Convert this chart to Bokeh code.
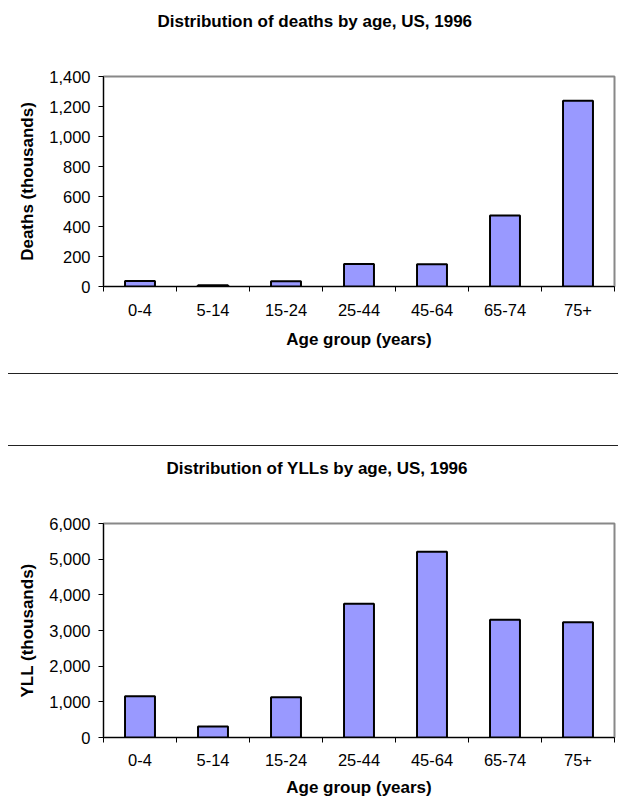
from bokeh.plotting import figure
from bokeh.layouts import column
from bokeh.models import FixedTicker, NumeralTickFormatter, ColumnDataSource, Div, Range1d, Title
from bokeh.embed import file_html
from bokeh.resources import INLINE

# ---- data ----
age_groups = ["0-4", "5-14", "15-24", "25-44", "45-64", "65-74", "75+"]
deaths_thousands = [36, 8, 35, 150, 148, 473, 1238]
yll_thousands = [1160, 308, 1132, 3748, 5205, 3299, 3234]
deaths_yticks = [0, 200, 400, 600, 800, 1000, 1200, 1400]
yll_yticks = [0, 1000, 2000, 3000, 4000, 5000, 6000]

FONT = "Liberation Sans"
BAR_FILL = "#9999FF"


def make_chart(title, ylabel, values, yticks, height, top_border, bottom_border,
               bar_width, title_offset, tick_standoff, xlabel_standoff):
    n = len(age_groups)
    centers = [i + 0.5 for i in range(n)]
    src = ColumnDataSource(dict(x=centers, top=values, cat=age_groups))
    p = figure(width=618, height=height, output_backend="svg", toolbar_location=None,
               x_range=Range1d(0, n), y_range=Range1d(yticks[0], yticks[-1]),
               min_border_left=103, min_border_right=4,
               min_border_top=top_border, min_border_bottom=bottom_border,
               title=title)
    p.vbar(x="x", top="top", width=bar_width, bottom=0, source=src,
           fill_color=BAR_FILL, line_color="black", line_width=2)

    # spacer between the frame and the title, so the title sits near the top
    p.add_layout(Title(text=" ", text_font_size="2px", standoff=29.5), "above")

    p.title.text_font = FONT
    p.title.text_font_size = "17px"
    p.title.text_font_style = "bold"
    p.title.text_color = "black"
    p.title.align = "left"
    p.title.offset = title_offset
    p.title.vertical_align = "top"
    p.title.standoff = 20

    p.xgrid.visible = False
    p.ygrid.visible = False
    p.outline_line_color = "#888888"
    p.outline_line_width = 2
    p.background_fill_color = "white"
    p.border_fill_color = "white"

    # x axis: labels at category centres, ticks at category boundaries
    xa = p.xaxis[0]
    xa.ticker = FixedTicker(ticks=centers, minor_ticks=list(range(n + 1)))
    xa.major_label_overrides = {c: lab for c, lab in zip(centers, age_groups)}
    xa.major_tick_out = 0
    xa.major_tick_in = 0
    xa.minor_tick_out = 5
    xa.minor_tick_in = 0
    xa.minor_tick_line_color = "black"
    xa.axis_line_color = "black"
    xa.major_label_text_font = FONT
    xa.major_label_text_font_size = "16.5px"
    xa.major_label_text_color = "black"
    xa.major_label_standoff = tick_standoff
    xa.axis_label = "Age group (years)"
    xa.axis_label_text_font = FONT
    xa.axis_label_text_font_size = "17px"
    xa.axis_label_text_font_style = "bold"
    xa.axis_label_text_color = "black"
    xa.axis_label_standoff = xlabel_standoff

    ya = p.yaxis[0]
    ya.ticker = FixedTicker(ticks=yticks, minor_ticks=[])
    ya.formatter = NumeralTickFormatter(format="0,0")
    ya.major_tick_out = 5
    ya.major_tick_in = 0
    ya.major_tick_line_color = "black"
    ya.minor_tick_line_color = None
    ya.axis_line_color = "black"
    ya.major_label_text_font = FONT
    ya.major_label_text_font_size = "16.5px"
    ya.major_label_text_color = "black"
    ya.major_label_standoff = 8
    ya.axis_label = ylabel
    ya.axis_label_text_font = FONT
    ya.axis_label_text_font_size = "17px"
    ya.axis_label_text_font_style = "bold"
    ya.axis_label_text_color = "black"
    ya.axis_label_standoff = 9
    return p


top = make_chart("Distribution of deaths by age, US, 1996", "Deaths (thousands)",
                 deaths_thousands, deaths_yticks, height=373, top_border=76,
                 bottom_border=87, bar_width=0.41, title_offset=54,
                 tick_standoff=12, xlabel_standoff=11)

sep = Div(text="", width=610, height=73, margin=(0, 0, 0, 8),
          styles={"border-top": "1px solid #222", "border-bottom": "1px solid #222"})

bottom = make_chart("Distribution of YLLs by age, US, 1996", "YLL (thousands)",
                    yll_thousands, yll_yticks, height=354, top_border=77,
                    bottom_border=63, bar_width=0.41, title_offset=63,
                    tick_standoff=11, xlabel_standoff=9)

layout = column(top, sep, bottom, spacing=0)
open("out.html", "w").write(file_html(layout, INLINE))
